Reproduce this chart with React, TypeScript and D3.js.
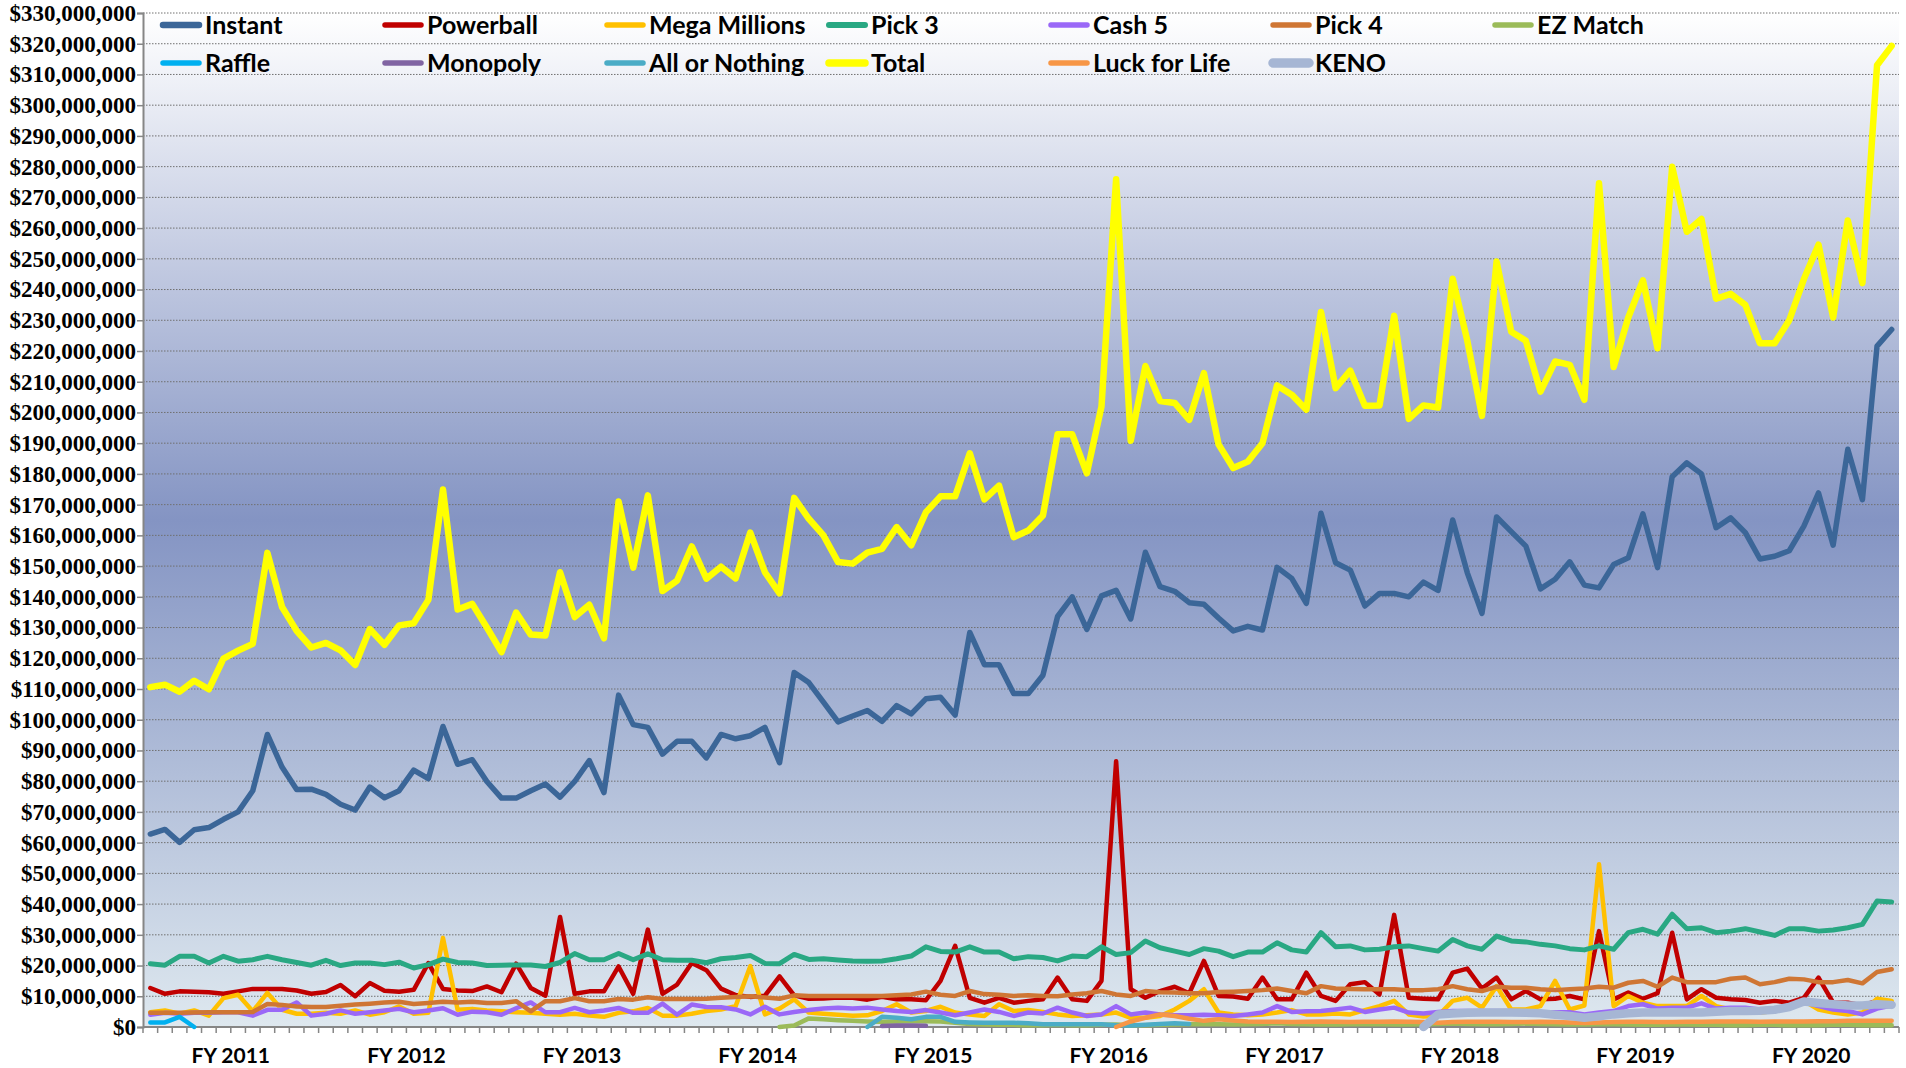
import * as d3 from "d3";
import React, { useEffect, useRef } from "react";

// monthly sales, $ millions, Jul 2010 .. Jun 2020
const fiscalYears = ["FY 2011", "FY 2012", "FY 2013", "FY 2014", "FY 2015", "FY 2016", "FY 2017", "FY 2018", "FY 2019", "FY 2020"];
const monthNames = ["Jul", "Aug", "Sep", "Oct", "Nov", "Dec", "Jan", "Feb", "Mar", "Apr", "May", "Jun"];

const instant = [
  62.8, 64.3, 60.1, 64.2, 64.9, 67.6, 70, 76.9, 95.2, 84.6, 77.3, 77.4, 75.7, 72.5, 70.6, 78.1, 74.6, 76.9, 83.6, 80.8, 97.8, 85.5, 87, 79.9,
  74.5, 74.5, 76.9, 79.1, 74.8, 79.9, 86.7, 76.3, 108, 98.4, 97.5, 88.8, 93, 93, 87.6, 95.2, 93.8, 94.8, 97.5, 86, 115.4, 112.1, 105.7, 99.3,
  101.2, 103, 99.5, 104.6, 101.9, 106.8, 107.3, 101.5, 128.4, 117.9, 117.9, 108.5, 108.5, 114.5, 133.6, 140, 129.4, 140.3, 142.1, 132.8, 154.5, 143.3, 141.8, 138.1,
  137.6, 133.1, 128.9, 130.4, 129.2, 149.6, 146, 137.9, 167.2, 151.1, 148.7, 137, 141.1, 141.1, 140, 144.8, 142.1, 165, 147.8, 134.6, 166, 161.2, 156.5, 142.6,
  145.7, 151.4, 143.8, 142.9, 150.5, 152.7, 167, 149.5, 179.1, 183.6, 180, 162.5, 165.7, 160.9, 152.3, 153.2, 155, 163, 173.8, 156.8, 188, 171.6, 221.6, 227,
];
const powerball = [
  12.7, 10.8, 11.6, 11.5, 11.3, 10.8, 11.6, 12.4, 12.4, 12.4, 11.9, 10.8, 11.4, 13.7, 10, 14.3, 11.8, 11.5, 12.1, 20.8, 12.4, 11.9, 11.7, 13.2,
  11.3, 20.6, 12.7, 10.2, 35.8, 10.8, 11.6, 11.6, 19.7, 10.8, 31.7, 10.8, 13.8, 20.8, 18.5, 12.5, 10.4, 9.8, 10.2, 16.5, 10.3, 9.2, 9.3, 9.6,
  9.5, 8.9, 9.8, 9, 9, 8.7, 15, 26.4, 9.5, 7.9, 9.5, 7.9, 8.5, 9, 16.1, 9, 8.5, 15, 86.5, 12.3, 9.5, 11.7, 13.1, 11,
  21.5, 10.1, 9.9, 9.2, 16.1, 9, 9, 17.7, 10.1, 8.5, 13.9, 14.6, 10.6, 36.5, 9.5, 9.2, 9, 17.7, 19, 12.5, 16.1, 9, 11.7, 9,
  9.2, 10.1, 9, 31.2, 9, 11.2, 9.2, 11, 30.7, 9, 12.3, 9.5, 9, 8.8, 7.9, 8.5, 7.9, 9.5, 16.1, 7.9, 7.9, 7, 8.5, 7.9,
];
const megaMillions = [
  4.8, 5.4, 4.3, 5.4, 3.7, 9.4, 10.5, 5.1, 11.1, 5.6, 4.3, 4.3, 4.6, 4.3, 5.4, 4, 4.8, 6.7, 4.3, 4.6, 29, 5.6, 5.9, 5.4,
  5.1, 4.8, 4.6, 4.3, 4, 4.3, 3.7, 3.3, 4.6, 5.1, 6.2, 3.7, 3.7, 4.3, 5.2, 5.7, 6.8, 19.8, 4.1, 6, 9, 4.7, 4.3, 4,
  3.7, 3.8, 5.2, 7.4, 4.7, 5.2, 6.6, 4.7, 4.1, 3.6, 7.4, 5.2, 5.5, 4.9, 4.1, 3.6, 3.8, 4.1, 4.7, 3, 3, 3.6, 5.7, 8.5,
  12.3, 4.7, 4.1, 3.8, 4.1, 4.7, 5.5, 4.1, 4.1, 4.4, 4.1, 5.5, 6.8, 8.5, 4.1, 3.4, 3.6, 8.5, 9.5, 6.3, 13.3, 5.7, 5.7, 6.8,
  15, 5.7, 7, 53, 6.8, 10.1, 7.9, 6.8, 6.8, 6.8, 10.1, 6.8, 5.7, 5.2, 4.7, 5.2, 6.8, 8.5, 5.7, 4.7, 4.1, 4.7, 9.2, 8.5,
];
const pick3 = [
  20.6, 20.1, 23, 23, 20.8, 23, 21.4, 21.9, 23, 21.9, 21, 20.1, 21.7, 20, 20.8, 20.8, 20.3, 21.1, 19.2, 20.3, 22.1, 21, 20.8, 20,
  20.1, 20.2, 20.2, 19.7, 21, 23.9, 21.9, 21.9, 23.9, 21.9, 23.8, 21.9, 21.7, 21.7, 20.9, 22.2, 22.6, 23.3, 20.7, 20.6, 23.6, 22, 22.2, 21.8,
  21.5, 21.4, 21.5, 22.2, 23.1, 26.1, 24.6, 24.4, 26.1, 24.4, 24.4, 22.2, 22.9, 22.6, 21.5, 23.1, 22.9, 26.1, 23.6, 24.2, 28, 25.8, 24.7, 23.6,
  25.5, 24.7, 22.9, 24.4, 24.4, 27.4, 25.1, 24.4, 30.7, 26.1, 26.4, 25.1, 25.3, 26.1, 26.4, 25.5, 24.7, 28.5, 26.4, 25.3, 29.6, 28, 27.7, 26.9,
  26.4, 25.5, 25.1, 26.4, 25.3, 30.7, 31.8, 30.2, 36.7, 32, 32.3, 30.7, 31.2, 32, 30.9, 29.8, 32, 32, 31.2, 31.6, 32.3, 33.4, 41, 40.7,
];
const cash5 = [
  4, 4.6, 4.3, 4.6, 4.6, 4.8, 4.8, 3.7, 5.6, 5.6, 8, 3.7, 4.3, 5.4, 4.3, 4.8, 5.4, 5.9, 4.8, 5.4, 6.1, 4, 5, 4.8,
  4, 6.1, 8, 4.8, 4.8, 6.2, 4.8, 5.4, 6.2, 4.6, 4.6, 7.6, 4, 7.3, 6.5, 6.4, 5.7, 4.1, 6.6, 4.1, 4.9, 5.5, 6, 6.3,
  6, 6.3, 5.7, 5.2, 4.9, 5.5, 4.7, 3.8, 4.7, 5.7, 4.9, 3.6, 4.7, 4.4, 6.3, 4.7, 3.6, 4.1, 6.8, 4.1, 4.7, 4.1, 3.8, 3.8,
  4, 3.8, 3.6, 4.1, 4.7, 6.8, 4.9, 5.1, 5.2, 5.7, 6.3, 4.9, 5.7, 6.3, 4.7, 4.4, 4.9, 5.2, 5.2, 5.2, 5.2, 5.2, 4.9, 4.8,
  4.8, 4.8, 4.1, 4.7, 5.2, 6.8, 7.4, 6, 6.3, 6.3, 7.7, 6, 6.3, 6.3, 5.7, 6, 7, 8.1, 6.8, 5.7, 5.2, 4.1, 6, 7,
];
const pick4 = [
  4.6, 4.6, 4.6, 4.7, 4.8, 4.8, 4.8, 4.9, 7.5, 7.2, 6.7, 6.5, 6.5, 6.9, 7.3, 7.6, 8, 8.2, 7.5, 7.8, 8.2, 8, 8.2, 7.8,
  7.8, 8.4, 5.1, 8.4, 8.4, 9.4, 8.4, 8.4, 9.1, 8.9, 9.7, 9.1, 9.1, 9.1, 9.2, 9.5, 9.8, 10, 9.6, 9.2, 10.3, 10.1, 10.1, 10.1,
  10.1, 10.1, 10.1, 10.3, 10.6, 11.5, 10.5, 10.1, 11.7, 10.7, 10.5, 10.1, 10.3, 10.1, 10, 10.6, 11, 11.7, 10.6, 10.1, 11.7, 11.3, 11.2, 11,
  11, 11.4, 11.5, 11.7, 12, 12.5, 11.7, 11, 13.3, 12.5, 12.4, 12.3, 12.3, 12.3, 12, 12, 12.3, 13.3, 12.3, 11.7, 13.1, 12.8, 12.8, 12.3,
  12, 12.3, 12.5, 13.1, 12.8, 14.4, 15, 13.1, 16.1, 14.6, 14.6, 14.6, 15.7, 16.1, 13.9, 14.6, 15.7, 15.5, 14.6, 14.6, 15.3, 14.2, 17.9, 18.8,
];
// games that only ran for part of the period: first month index + values
const ezMatchStart = 43;
const ezMatch = [
  0, 0.5, 2.8, 2.5, 2.2, 2, 1.8, 1.7, 1.8, 1.9, 1.9, 1.8, 1.4, 1, 0.8, 0.7, 0.7, 0.6,
  0.6, 0.7, 0.6, 0.6, 0.7, 0.8, 0.6, 0.6, 0.7, 0.8, 0.9, 1, 0.9, 0.8, 0.9, 1, 1.2, 1, 0.9, 0.8,
  0.8, 0.9, 1, 0.9, 0.8, 0.8, 0.9, 1, 1.1, 1, 0.9, 0.9, 1, 1.1, 1, 0.9, 0.8, 0.8, 0.9, 0.9,
  0.8, 0.7, 0.7, 0.8, 0.8, 0.7, 0.7, 0.6, 0.6, 0.7, 0.7, 0.6, 0.6, 0.6, 0.7, 0.7, 0.6, 0.6, 0.6,
];
const raffleStart = 0;
const raffle = [1.5, 1.5, 3.3, 0];
const monopolyStart = 50;
const monopoly = [0.3, 0.5, 0.5, 0.4];
const allOrNothingStart = 49;
const allOrNothing = [0, 3.3, 3, 2.5, 3.3, 3.3, 1.7, 1.5, 1.4, 1.4, 1.4, 1.2, 0.9, 0.9, 0.9, 0.9, 0.9, 0.6, 0.5, 0.7, 1, 1.2, 1];
const total = [
  110.6, 111.4, 109.1, 112.7, 109.9, 119.9, 122.5, 124.7, 154.3, 136.7, 128.9, 123.5, 125, 122.6, 117.8, 129.5, 124.4, 130.7, 131.4, 139, 174.9, 135.9, 137.7, 130,
  122, 134.9, 127.7, 127.4, 148, 133.4, 137.4, 126.5, 171, 149.5, 173, 141.9, 145.3, 156.4, 145.9, 149.8, 146, 160.9, 148, 141.1, 172.2, 165.4, 160, 151.3,
  150.8, 154.4, 155.6, 162.7, 156.8, 167.5, 172.7, 172.7, 186.7, 171.7, 176.2, 159.4, 161.6, 166.5, 192.9, 192.9, 180.2, 201.9, 275.9, 190.8, 215.1, 203.7, 203.1, 197.6,
  212.8, 189.6, 181.9, 184, 190, 208.8, 205.8, 200.9, 232.7, 207.9, 213.6, 202.2, 202.3, 231.5, 197.9, 202.3, 201.6, 243.5, 223.3, 198.9, 249.1, 226.3, 223.3, 206.8,
  216.6, 215.5, 204.1, 274.6, 214.8, 230.9, 243, 220.9, 280, 258.8, 263, 237, 238.6, 235, 222.5, 222.5, 230, 243.4, 254.6, 230.9, 262.5, 242.1, 313, 319.3,
];
const luckForLifeStart = 66;
const luckForLife = [
  0, 1.8, 3, 4.1, 3.6, 2.7, 2, 2.5, 2.1,
  1.8, 1.7, 1.7, 1.6, 1.7, 1.8, 1.7, 1.6, 1.7, 1.7, 1.8, 1.7, 1.6, 1.4, 1.6, 1.7, 1.7, 1.7, 1.6, 1.6, 1.7, 1.6, 1.5,
  1.3, 1.5, 1.6, 1.7, 1.7, 1.6, 1.6, 1.7, 1.7, 1.8, 1.8, 1.8, 1.7, 1.8, 1.8, 1.8, 1.9, 1.9, 2, 2, 2, 2,
];
const kenoStart = 87;
const keno = [
  0, 4.1, 4.4, 4.6, 4.7, 4.7, 4.7, 4.6, 4.5, 4, 3.6, 3, 3.5, 4.1, 4.5, 4.7, 4.7, 4.8, 4.7, 4.7,
  5, 5.2, 5.2, 5.3, 5.6, 6.5, 8.3, 7.8, 7.4, 7, 7, 7.4, 7.2,
];

const series = [
  { name: "Instant", start: 0, values: instant, color: "#3B6698", width: 5.5 },
  { name: "Powerball", start: 0, values: powerball, color: "#C00000", width: 4.5 },
  { name: "Mega Millions", start: 0, values: megaMillions, color: "#FFC000", width: 4.5 },
  { name: "Pick 3", start: 0, values: pick3, color: "#29A883", width: 5 },
  { name: "Cash 5", start: 0, values: cash5, color: "#9A68F7", width: 4.5 },
  { name: "Pick 4", start: 0, values: pick4, color: "#CF7634", width: 4.5 },
  { name: "EZ Match", start: ezMatchStart, values: ezMatch, color: "#9BBB59", width: 4.5 },
  { name: "Raffle", start: raffleStart, values: raffle, color: "#00B0F0", width: 4.5 },
  { name: "Monopoly", start: monopolyStart, values: monopoly, color: "#8064A2", width: 4.5 },
  { name: "All or Nothing", start: allOrNothingStart, values: allOrNothing, color: "#4BACC6", width: 4.5 },
  { name: "Total", start: 0, values: total, color: "#FFFF00", width: 6.5 },
  { name: "Luck for Life", start: luckForLifeStart, values: luckForLife, color: "#F79646", width: 4.5 },
  { name: "KENO", start: kenoStart, values: keno, color: "#A6B6D4", width: 8.5 },
];

const W = 1906;
const H = 1068;

export default function App() {
  const svgRef = useRef<SVGSVGElement>(null);

  useEffect(() => {
    const svg = d3.select(svgRef.current);
    svg.selectAll("*").remove();

    const left = 143, right = 1899, top = 13, bottom = 1027;
    const months = fiscalYears.flatMap(fy => monthNames.map(m => `${m} ${fy}`));

    const x = d3.scaleBand<string>().domain(months).range([left, right]).padding(0);
    const y = d3.scaleLinear().domain([0, 330]).range([bottom, top]);
    const bw = x.bandwidth();
    const yTicks = d3.range(0, 331, 10);

    // plot background
    const grad = svg.append("defs").append("linearGradient")
      .attr("id", "bg").attr("x1", 0).attr("y1", 0).attr("x2", 0).attr("y2", 1);
    grad.append("stop").attr("offset", "0%").attr("stop-color", "#FFFFFF");
    grad.append("stop").attr("offset", "50%").attr("stop-color", "#8494C3");
    grad.append("stop").attr("offset", "100%").attr("stop-color", "#DEE8EF");

    svg.append("rect")
      .attr("x", left).attr("y", top)
      .attr("width", right - left).attr("height", bottom - top)
      .attr("fill", "url(#bg)");

    // dotted gridlines
    svg.append("g")
      .selectAll("line")
      .data(yTicks.filter(t => t > 0))
      .join("line")
      .attr("x1", left).attr("x2", right)
      .attr("y1", d => y(d)).attr("y2", d => y(d))
      .attr("stroke", "#707070")
      .attr("stroke-width", 1)
      .attr("stroke-dasharray", "1.5,1.5");

    // y axis
    const yAxis = svg.append("g")
      .attr("transform", `translate(${left},0)`)
      .call(
        d3.axisLeft(y)
          .tickValues(yTicks)
          .tickSize(6)
          .tickPadding(1)
          .tickFormat(d => d3.format("$,")(+d * 1e6))
      );
    yAxis.select(".domain").attr("stroke", "#868686").attr("stroke-width", 2);
    yAxis.selectAll(".tick line").attr("stroke", "#868686").attr("stroke-width", 1.5);
    yAxis.selectAll("text")
      .attr("fill", "#000")
      .style("font-family", "'Liberation Serif', 'Times New Roman', serif")
      .style("font-weight", "bold")
      .style("font-size", "23px");

    // x axis: ticks between months, label per fiscal year
    const xAxis = svg.append("g");
    xAxis.append("line")
      .attr("x1", left).attr("x2", right)
      .attr("y1", bottom).attr("y2", bottom)
      .attr("stroke", "#868686").attr("stroke-width", 2);
    xAxis.selectAll(".mtick")
      .data(months.concat(["end"]))
      .join("line")
      .attr("class", "mtick")
      .attr("x1", (d, i) => left + i * bw).attr("x2", (d, i) => left + i * bw)
      .attr("y1", bottom).attr("y2", bottom + 6)
      .attr("stroke", "#868686").attr("stroke-width", 1.5);
    xAxis.selectAll(".fy")
      .data(fiscalYears)
      .join("text")
      .attr("class", "fy")
      .attr("x", (d, i) => x(months[i * 12])! + bw * 6)
      .attr("y", 1063)
      .attr("text-anchor", "middle")
      .attr("fill", "#000")
      .style("font-family", "Lato, 'Open Sans', sans-serif")
      .style("font-weight", "bold")
      .style("font-size", "21px")
      .text(d => d);

    // lines
    series.forEach(s => {
      const pts: [number, number][] = s.values.map((v, i) => [x(months[s.start + i])! + bw / 2, y(v)]);
      svg.append("path")
        .attr("d", d3.line()(pts))
        .attr("fill", "none")
        .attr("stroke", s.color)
        .attr("stroke-width", s.width)
        .attr("stroke-linejoin", "round")
        .attr("stroke-linecap", "round");
    });

    // legend: 7 columns, 2 rows
    const legend = svg.append("g");
    series.forEach((s, i) => {
      const col = i % 7;
      const row = Math.floor(i / 7);
      const tx = 205 + col * 222;
      const ty = 25 + row * 38;
      legend.append("line")
        .attr("x1", tx - 42).attr("x2", tx - 6)
        .attr("y1", ty).attr("y2", ty)
        .attr("stroke", s.color)
        .attr("stroke-width", s.width + 1)
        .attr("stroke-linecap", "round");
      legend.append("text")
        .attr("x", tx).attr("y", ty)
        .attr("dy", "0.35em")
        .attr("fill", "#000")
        .style("font-family", "Lato, 'Open Sans', sans-serif")
        .style("font-weight", "bold")
        .style("font-size", "25px")
        .text(s.name);
    });
  }, []);

  return (
    <div style={{ position: "absolute", left: 0, top: 0, background: "#fff" }}>
      <svg ref={svgRef} width={W} height={H} style={{ display: "block" }}></svg>
    </div>
  );
}
